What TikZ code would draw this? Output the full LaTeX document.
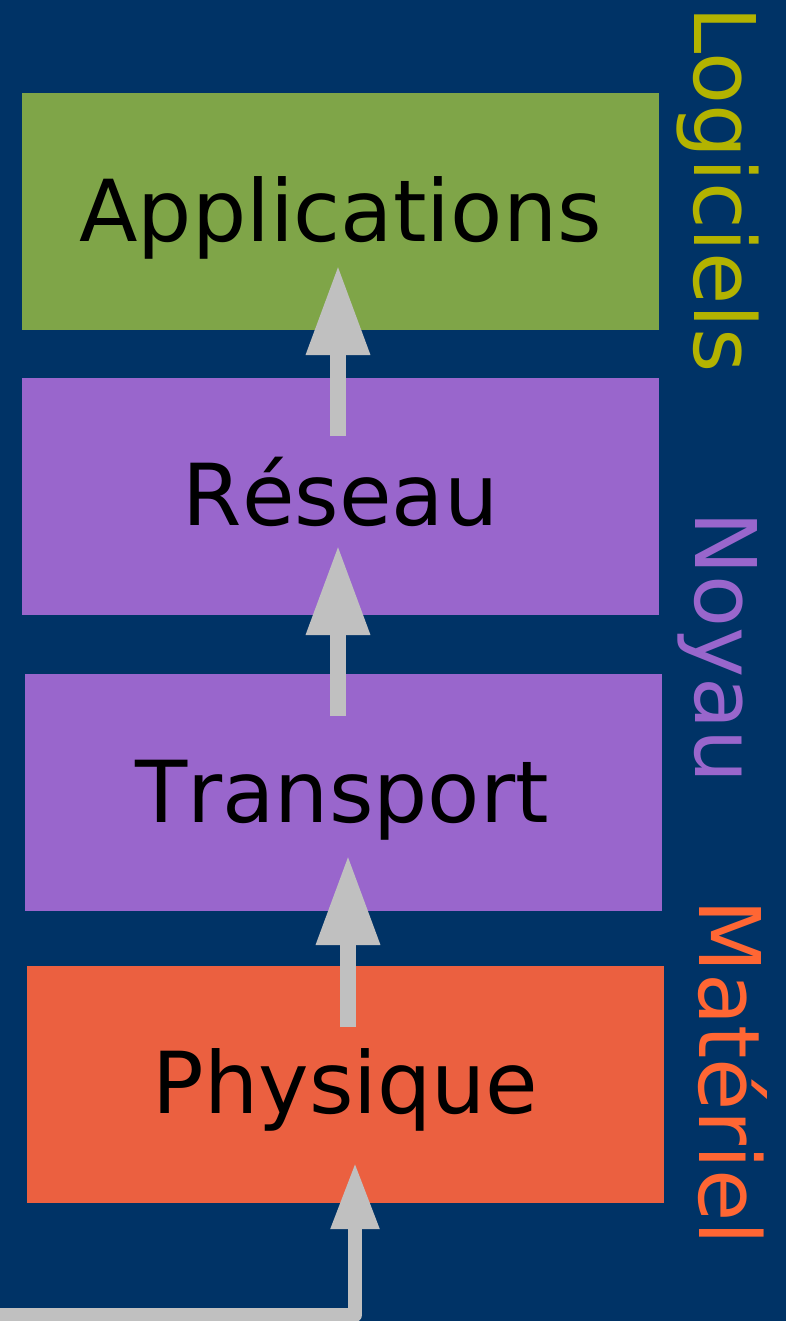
\documentclass[tikz,border=0pt]{standalone}
\usepackage{fontspec}
\setmainfont{DejaVu Sans}
\newfontfamily\plainkern[Kerning=Off]{DejaVu Sans}
\usetikzlibrary{arrows.meta}

\definecolor{bgblue}{RGB}{0,51,102}
\definecolor{appgreen}{RGB}{127,165,72}
\definecolor{kernelpurple}{RGB}{153,102,204}
\definecolor{hworange}{RGB}{235,96,64}
\definecolor{swyellow}{RGB}{179,179,0}
\definecolor{hwtext}{RGB}{255,102,51}
\definecolor{flowgray}{RGB}{192,192,192}

\tikzset{
  layer/.style={rectangle, draw=none, inner sep=0pt, minimum width=637pt, minimum height=237pt, anchor=north west},
  layertext/.style={anchor=base, inner sep=0pt, text=black, font=\plainkern\fontsize{85.5}{100}\selectfont},
  sidetext/.style={anchor=base, inner sep=0pt, rotate=-90, font=\fontsize{85}{100}\selectfont},
  flow/.style={draw=flowgray, line width=16pt, -{Triangle[length=90pt, width=60pt]}},
  inflow/.style={draw=flowgray, line width=14pt, line join=round, -{Triangle[length=67pt, width=45pt]}}
}

\begin{document}
\begin{tikzpicture}[x=1pt, y=-1pt]
  % background
  \fill[bgblue] (0,0) rectangle (786,1321);
  \useasboundingbox (0,0) rectangle (786,1321);
  \clip (0,0) rectangle (786,1321);

  % layer boxes
  \node[layer, fill=appgreen]     (app)   at (22,93)  {};
  \node[layer, fill=kernelpurple] (net)   at (22,378) {};
  \node[layer, fill=kernelpurple] (trans) at (25,674) {};
  \node[layer, fill=hworange]     (phys)  at (27,966) {};

  % arrows between layers
  \coordinate (netout)   at (338,436);
  \coordinate (appin)    at (338,265);
  \coordinate (transout) at (338,716);
  \coordinate (netin)    at (338,545);
  \coordinate (physout)  at (348,1027);
  \coordinate (transin)  at (348,855);
  \coordinate (wire)     at (0,1315);
  \coordinate (bend)     at (355,1315);
  \coordinate (physin)   at (355,1162);

  \draw[flow] (netout) -- (appin);
  \draw[flow] (transout) -- (netin);
  \draw[flow] (physout) -- (transin);
  \draw[inflow] (wire) -- (bend) -- (physin);

  % layer names
  \node[layertext] (tapp)   at (340.5,242)  {Applications};
  \node[layertext] (tnet)   at (340.5,525)  {Réseau};
  \node[layertext] (ttrans) at (342,822)    {Transport};
  \node[layertext] (tphys)  at (345.5,1113) {Physique};

  % side captions
  \node[sidetext, text=swyellow]     (sw)   at (694,189.5)  {Logiciels};
  \node[sidetext, text=kernelpurple] (kern) at (695,647.5)  {Noyau};
  \node[sidetext, text=hwtext]       (hw)   at (699,1072.5) {Matériel};
\end{tikzpicture}
\end{document}
